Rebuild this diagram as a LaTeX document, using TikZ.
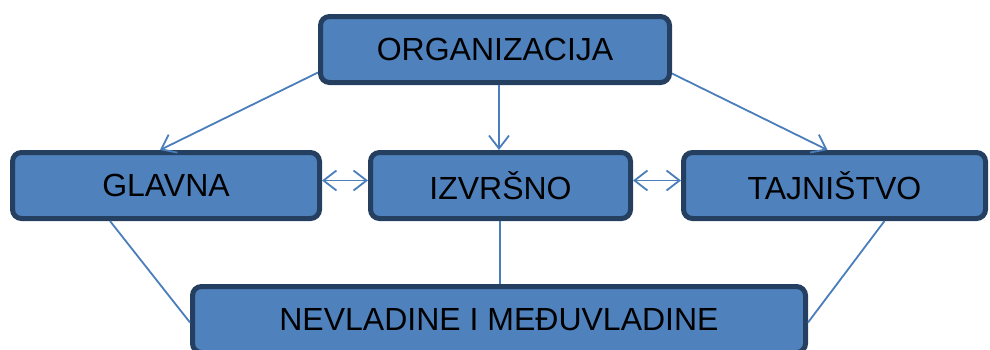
\documentclass[tikz,border=0pt]{standalone}
\usepackage{fontspec}
\setmainfont{Liberation Sans}
\usetikzlibrary{arrows.meta}
\definecolor{boxfill}{HTML}{4F81BD}
\definecolor{boxedge}{HTML}{253F60}
\definecolor{linkc}{HTML}{4A7EBB}
\tikzset{
  box/.style={draw=boxedge, line width=5pt, fill=boxfill, rounded corners=9pt,
    minimum height=66pt, inner sep=0pt, font=\fontsize{32}{36}\selectfont, text=black},
  link/.style={draw=linkc, line width=1.8pt},
  tip/.style={-{Straight Barb[length=13pt,width=20pt,line width=1.8pt]}},
  dtip/.style={{Straight Barb[length=13pt,width=20pt,line width=1.8pt]}-{Straight Barb[length=13pt,width=20pt,line width=1.8pt]}}
}
\begin{document}
\begin{tikzpicture}[x=1pt,y=-1pt]
\useasboundingbox (0,0) rectangle (990,349);
\node[box, minimum width=349pt] (org) at (495,49.5) {ORGANIZACIJA};
\node[box, minimum width=307pt] (gl) at (166,185.5) {GLAVNA};
\node[box, minimum width=260pt] (iz) at (500.5,185.5) {IZVRŠNO};
\node[box, minimum width=302pt] (ta) at (834.5,185.5) {TAJNIŠTVO};
\node[box, minimum width=613pt, minimum height=66pt] (ne) at (499,319.5) {NEVLADINE I MEĐUVLADINE};
% connectors
\draw[link,tip] ([yshift=-23pt]org.west) -- ([xshift=-6pt]gl.north) ;
\draw[link,tip] ([xshift=4pt]org.south) -- ([xshift=-1.5pt]iz.north);
\draw[link,tip] ([yshift=-24pt]org.east) -- ([xshift=-7pt]ta.north);
\draw[link,dtip] ([yshift=5pt]gl.east) -- ([yshift=5pt]iz.west);
\draw[link,dtip] ([yshift=5pt]iz.east) -- ([yshift=5pt]ta.west);
\draw[link] ([xshift=-56pt]gl.south) -- ([yshift=-3pt]ne.west);
\draw[link] ([xshift=50pt]ta.south) -- ([yshift=-3pt]ne.east);
\draw[link] ([xshift=-0.5pt]iz.south) -- ([xshift=1pt]ne.north);
\end{tikzpicture}
\end{document}
